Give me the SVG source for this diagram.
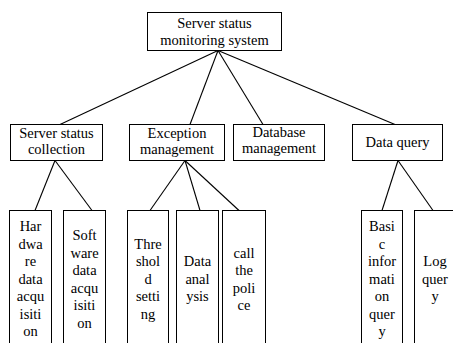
<svg xmlns="http://www.w3.org/2000/svg" width="453" height="343" viewBox="0 0 453 343">
<style>
  rect { fill: #ffffff; stroke: #000000; stroke-width: 1; }
  text { font-family: 'Liberation Serif', 'Times New Roman', 'DejaVu Serif', serif; font-size: 14.5px; fill: #000000; text-anchor: middle; }
  .conn line { stroke: #000000; stroke-width: 1.1; }
</style>
<rect x="0" y="0" width="453" height="343" style="fill:#ffffff;stroke:none"/>
<g class="conn" id="connectors">
  <line x1="218" y1="50.5" x2="60" y2="124.5"/>
  <line x1="218" y1="50.5" x2="190" y2="124.5"/>
  <line x1="218" y1="50.5" x2="263" y2="124.5"/>
  <line x1="218" y1="50.5" x2="395" y2="124.5"/>
  <line x1="55" y1="160.5" x2="35" y2="210.5"/>
  <line x1="55" y1="160.5" x2="92" y2="210.5"/>
  <line x1="185" y1="160.5" x2="150" y2="210.5"/>
  <line x1="185" y1="160.5" x2="200" y2="210.5"/>
  <line x1="185" y1="160.5" x2="239" y2="210.5"/>
  <line x1="398" y1="160.5" x2="382" y2="210.5"/>
  <line x1="398" y1="160.5" x2="433" y2="210.5"/>
</g>
<g id="root">
  <rect x="147.5" y="12.5" width="134" height="38"/>
  <text x="214.5" y="27.5" font-family="Liberation Serif, serif">Server status</text>
  <text x="214.5" y="44.5" font-family="Liberation Serif, serif">monitoring system</text>
</g>
<g id="collection">
  <rect x="10.5" y="124.5" width="92" height="36"/>
  <text x="56.5" y="138">Server status</text>
  <text x="56.5" y="154">collection</text>
</g>
<g id="exception">
  <rect x="129.5" y="124.5" width="95" height="36"/>
  <text x="177" y="138">Exception</text>
  <text x="177" y="154">management</text>
</g>
<g id="database">
  <rect x="233.5" y="124.5" width="91" height="36"/>
  <text x="279" y="137">Database</text>
  <text x="279" y="153">management</text>
</g>
<g id="dataquery">
  <rect x="352.5" y="124.5" width="90" height="36"/>
  <text x="397.5" y="147">Data query</text>
</g>
<g id="hardware">
  <rect x="9.5" y="210.5" width="42" height="145"/>
  <text x="30.5" y="231">Har</text>
  <text x="30.5" y="248.5">dwa</text>
  <text x="30.5" y="266">re</text>
  <text x="30.5" y="283.5">data</text>
  <text x="30.5" y="301">acqu</text>
  <text x="30.5" y="318.5">isiti</text>
  <text x="30.5" y="336">on</text>
</g>
<g id="software">
  <rect x="63.5" y="210.5" width="42" height="145"/>
  <text x="84.5" y="240">Soft</text>
  <text x="84.5" y="257.5">ware</text>
  <text x="84.5" y="275">data</text>
  <text x="84.5" y="292.5">acqu</text>
  <text x="84.5" y="310">isiti</text>
  <text x="84.5" y="327.5">on</text>
</g>
<g id="threshold">
  <rect x="127.5" y="210.5" width="41" height="145"/>
  <text x="148" y="248.5">Thre</text>
  <text x="148" y="266">shol</text>
  <text x="148" y="283.5">d</text>
  <text x="148" y="301">setti</text>
  <text x="148" y="318.5">ng</text>
</g>
<g id="analysis">
  <rect x="176.5" y="210.5" width="42" height="145"/>
  <text x="197.5" y="266">Data</text>
  <text x="197.5" y="283.5">anal</text>
  <text x="197.5" y="301">ysis</text>
</g>
<g id="police">
  <rect x="222.5" y="210.5" width="43" height="145"/>
  <text x="244" y="257.5">call</text>
  <text x="244" y="275">the</text>
  <text x="244" y="292.5">poli</text>
  <text x="244" y="310">ce</text>
</g>
<g id="basic">
  <rect x="361.5" y="210.5" width="41" height="145"/>
  <text x="382" y="231">Basi</text>
  <text x="382" y="248.5">c</text>
  <text x="382" y="266">infor</text>
  <text x="382" y="283.5">mati</text>
  <text x="382" y="301">on</text>
  <text x="382" y="318.5">quer</text>
  <text x="382" y="336">y</text>
</g>
<g id="logquery">
  <rect x="414.5" y="210.5" width="43" height="145"/>
  <text x="435" y="266">Log</text>
  <text x="435" y="283.5">quer</text>
  <text x="435" y="301">y</text>
</g>
</svg>
